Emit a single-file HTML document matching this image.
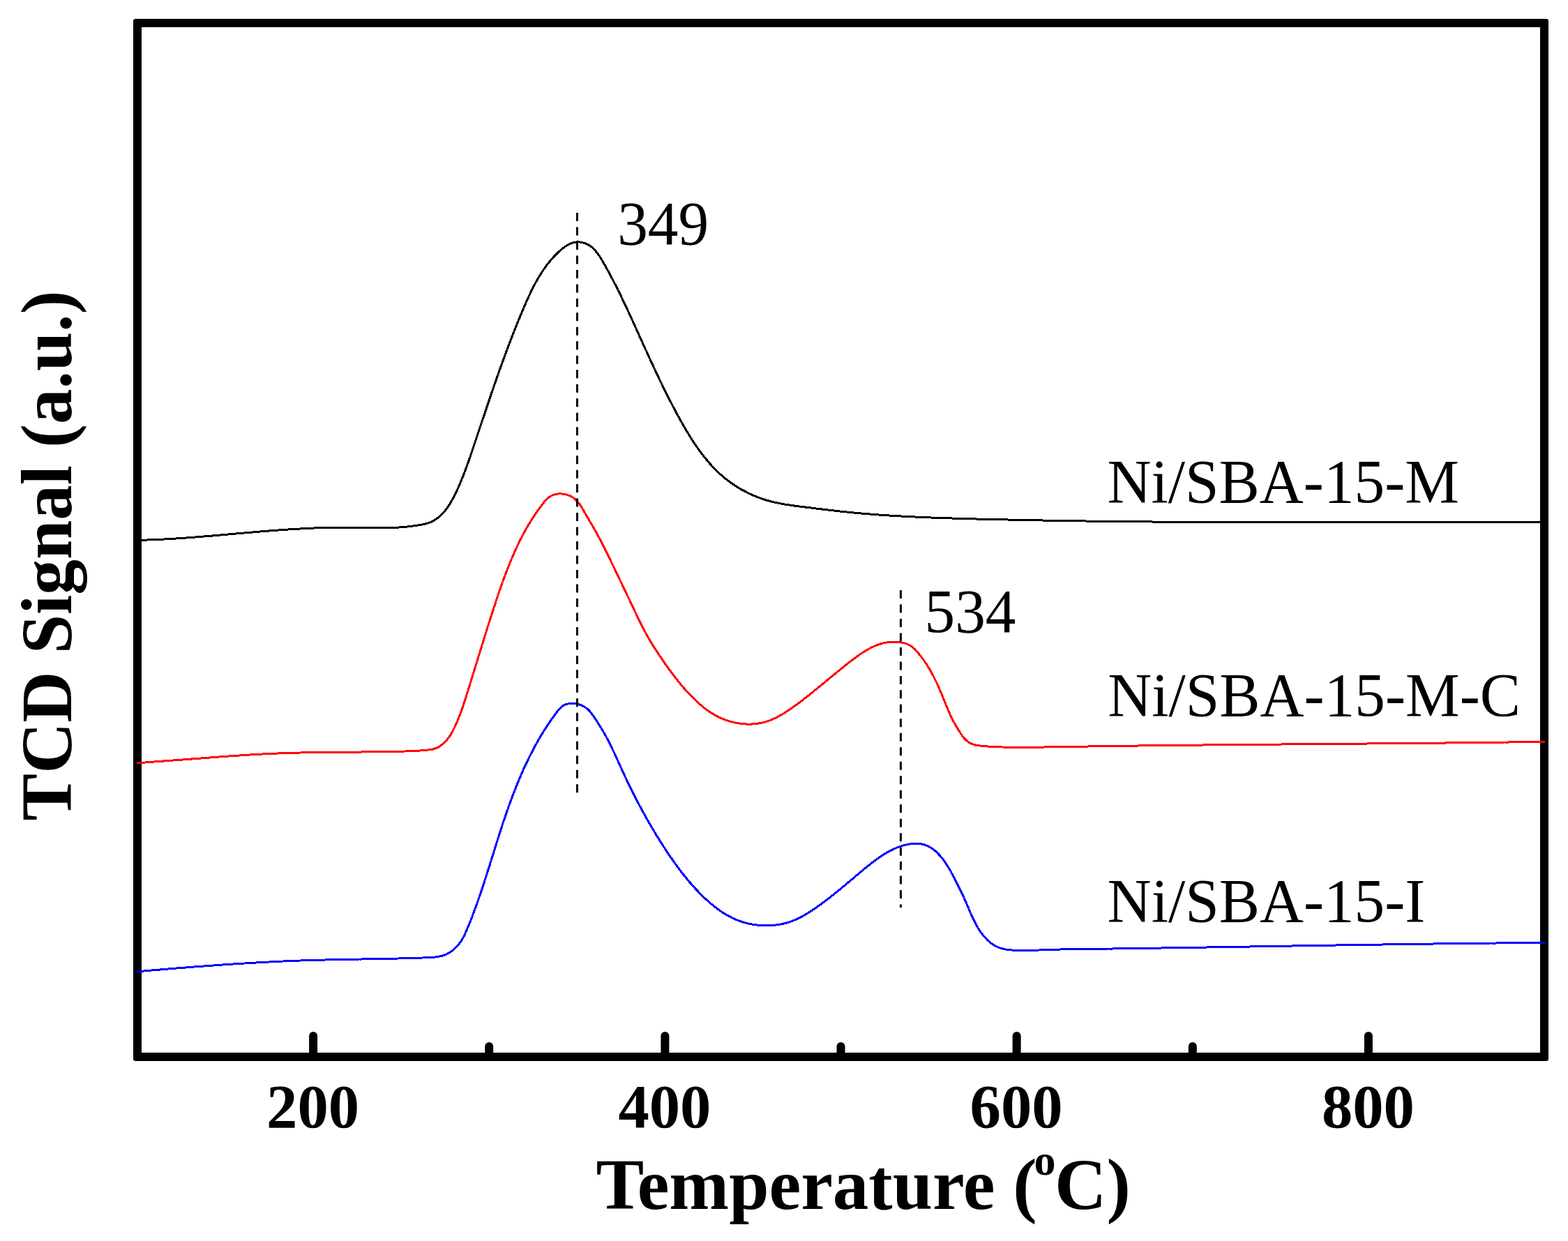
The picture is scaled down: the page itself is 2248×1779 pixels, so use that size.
<!DOCTYPE html>
<html><head><meta charset="utf-8"><title>TCD Signal vs Temperature</title>
<style>
html,body{margin:0;padding:0;background:#fff;}
body{width:2248px;height:1779px;overflow:hidden;}
svg{display:block;}
text{font-family:"Liberation Serif","Times New Roman",Times,serif;fill:#000;}
</style></head>
<body>
<svg width="2248" height="1779" viewBox="0 0 2248 1779">
<rect x="0" y="0" width="2248" height="1779" fill="#fff"/>
<path fill="#000" fill-rule="evenodd" d="M194.5 27H2216.5A3.5 3.5 0 0 1 2220 30.5V1517.5A3.5 3.5 0 0 1 2216.5 1521H194.5A3.5 3.5 0 0 1 191 1517.5V30.5A3.5 3.5 0 0 1 194.5 27ZM203 39V1509H2208V39Z"/>
<g fill="none" stroke="#000" stroke-width="12" stroke-linecap="round">
<line x1="449.1" y1="1515" x2="449.1" y2="1485"/><line x1="701.2" y1="1515" x2="701.2" y2="1500"/><line x1="953.4" y1="1515" x2="953.4" y2="1485"/><line x1="1205.5" y1="1515" x2="1205.5" y2="1500"/><line x1="1457.6" y1="1515" x2="1457.6" y2="1485"/><line x1="1709.8" y1="1515" x2="1709.8" y2="1500"/><line x1="1961.9" y1="1515" x2="1961.9" y2="1485"/>
</g>
<g fill="none" stroke-width="3" stroke-linejoin="round" stroke-linecap="butt" shape-rendering="crispEdges">
<path stroke="#000" d="M196.0 774.4L198.5 774.4 201.0 774.3 203.5 774.2 206.0 774.2 208.5 774.1 211.0 774.0 213.5 773.9 216.0 773.8 218.5 773.7 221.0 773.6 223.5 773.5 226.0 773.4 228.5 773.3 231.0 773.2 233.5 773.1 236.0 772.9 238.5 772.8 241.0 772.7 243.5 772.5 246.0 772.4 248.5 772.2 251.0 772.1 253.5 771.9 256.0 771.7 258.5 771.6 261.0 771.4 263.5 771.2 266.0 771.1 268.5 770.9 271.0 770.7 273.5 770.5 276.0 770.3 278.5 770.1 281.0 769.9 283.4 769.7 285.9 769.5 288.4 769.3 290.9 769.1 293.4 768.9 295.9 768.7 298.4 768.5 300.9 768.3 303.4 768.1 305.9 767.9 308.4 767.7 310.9 767.5 313.4 767.2 315.8 767.0 318.3 766.8 320.8 766.6 323.3 766.4 325.8 766.1 328.3 765.9 330.8 765.7 333.3 765.5 335.8 765.3 338.3 765.0 340.8 764.8 343.3 764.6 345.7 764.4 348.2 764.2 350.7 763.9 353.2 763.7 355.7 763.5 358.2 763.3 360.7 763.1 363.2 762.9 365.7 762.6 368.2 762.4 370.7 762.2 373.2 762.0 375.7 761.8 378.1 761.6 380.6 761.4 383.1 761.2 385.6 761.0 388.1 760.8 390.6 760.6 393.1 760.4 395.6 760.2 398.1 760.1 400.6 759.9 403.1 759.7 405.6 759.5 408.1 759.3 410.6 759.2 413.1 759.0 415.6 758.8 418.1 758.7 420.6 758.5 423.0 758.4 425.5 758.2 428.0 758.1 430.5 758.0 433.0 757.8 435.5 757.7 438.0 757.6 440.5 757.4 443.0 757.3 445.5 757.2 448.0 757.1 450.5 757.0 453.0 756.9 455.5 756.8 458.0 756.7 460.5 756.7 463.0 756.6 465.5 756.5 468.0 756.5 470.5 756.4 473.0 756.4 475.5 756.3 478.0 756.3 480.5 756.3 483.0 756.2 485.5 756.2 488.0 756.2 490.5 756.2 493.0 756.2 495.5 756.3 498.0 756.3 500.5 756.3 503.0 756.3 505.5 756.4 508.0 756.4 510.5 756.5 513.0 756.5 515.5 756.5 518.0 756.6 520.5 756.6 523.1 756.7 525.6 756.7 528.1 756.7 530.6 756.8 533.1 756.8 535.6 756.8 538.1 756.8 540.6 756.9 543.1 756.9 545.6 756.8 548.1 756.8 550.6 756.8 553.1 756.8 555.6 756.7 558.1 756.6 560.6 756.6 563.1 756.5 565.6 756.4 568.1 756.2 570.6 756.1 573.1 755.9 575.5 755.7 578.0 755.6 580.5 755.3 583.0 755.1 585.5 754.8 588.0 754.6 590.5 754.3 593.0 753.9 595.4 753.6 597.9 753.2 600.4 752.8 602.8 752.4 605.3 751.9 607.8 751.4 610.2 750.8 612.6 750.1 615.0 749.4 617.3 748.5 619.6 747.4 621.8 746.3 624.0 745.0 626.0 743.6 628.0 742.1 630.0 740.6 631.8 738.9 633.6 737.1 635.3 735.3 637.0 733.4 638.6 731.5 640.1 729.5 641.6 727.5 643.0 725.4 644.3 723.3 645.6 721.2 646.9 719.0 648.1 716.9 649.3 714.7 650.5 712.5 651.6 710.2 652.7 708.0 653.8 705.7 654.9 703.5 655.9 701.2 657.0 698.9 658.0 696.6 659.0 694.3 660.0 692.0 660.9 689.7 661.9 687.4 662.8 685.1 663.8 682.8 664.7 680.4 665.6 678.1 666.5 675.8 667.3 673.4 668.2 671.1 669.1 668.7 669.9 666.4 670.8 664.0 671.6 661.7 672.4 659.3 673.2 657.0 674.1 654.6 674.9 652.2 675.7 649.9 676.5 647.5 677.3 645.1 678.1 642.7 678.9 640.4 679.7 638.0 680.5 635.6 681.3 633.3 682.1 630.9 682.9 628.5 683.7 626.1 684.4 623.8 685.2 621.4 686.0 619.0 686.8 616.7 687.6 614.3 688.4 611.9 689.2 609.5 690.0 607.2 690.8 604.8 691.6 602.4 692.4 600.1 693.2 597.7 694.0 595.3 694.8 592.9 695.6 590.6 696.4 588.2 697.2 585.8 698.0 583.5 698.8 581.1 699.6 578.7 700.4 576.4 701.2 574.0 702.0 571.6 702.8 569.2 703.6 566.9 704.4 564.5 705.2 562.1 706.0 559.8 706.9 557.4 707.7 555.1 708.5 552.7 709.3 550.3 710.1 548.0 711.0 545.6 711.8 543.2 712.6 540.9 713.4 538.5 714.3 536.2 715.1 533.8 715.9 531.4 716.8 529.1 717.6 526.7 718.5 524.4 719.3 522.0 720.2 519.7 721.0 517.3 721.9 515.0 722.7 512.6 723.6 510.3 724.5 507.9 725.3 505.6 726.2 503.2 727.1 500.9 728.0 498.6 728.8 496.2 729.7 493.9 730.6 491.5 731.5 489.2 732.4 486.9 733.3 484.5 734.2 482.2 735.1 479.9 736.0 477.5 736.9 475.2 737.9 472.9 738.8 470.6 739.7 468.2 740.6 465.9 741.6 463.6 742.5 461.3 743.5 459.0 744.4 456.7 745.4 454.3 746.3 452.0 747.3 449.7 748.3 447.4 749.2 445.1 750.2 442.8 751.2 440.5 752.2 438.2 753.2 435.9 754.2 433.6 755.2 431.3 756.2 429.1 757.3 426.8 758.3 424.5 759.4 422.2 760.4 420.0 761.5 417.7 762.6 415.5 763.7 413.2 764.9 411.0 766.0 408.8 767.2 406.6 768.4 404.4 769.6 402.2 770.8 400.0 772.1 397.9 773.4 395.7 774.7 393.6 776.0 391.5 777.4 389.4 778.8 387.3 780.2 385.2 781.7 383.2 783.1 381.2 784.6 379.2 786.2 377.2 787.8 375.3 789.4 373.3 791.0 371.5 792.6 369.6 794.3 367.7 796.1 365.9 797.8 364.2 799.6 362.4 801.4 360.7 803.3 359.0 805.2 357.4 807.1 355.8 809.1 354.3 811.2 352.9 813.3 351.5 815.5 350.3 817.7 349.3 820.1 348.3 822.5 347.6 824.9 347.2 827.4 346.9 829.9 346.9 832.4 347.2 834.9 347.6 837.3 348.3 839.6 349.1 841.9 350.1 844.1 351.3 846.2 352.6 848.2 354.1 850.1 355.8 851.9 357.5 853.6 359.4 855.2 361.3 856.7 363.3 858.2 365.3 859.6 367.4 860.9 369.5 862.3 371.6 863.5 373.8 864.8 375.9 866.0 378.1 867.3 380.3 868.5 382.5 869.7 384.6 870.9 386.8 872.1 389.0 873.3 391.2 874.5 393.4 875.7 395.6 876.8 397.8 878.0 400.1 879.1 402.3 880.3 404.5 881.4 406.7 882.6 408.9 883.7 411.2 884.8 413.4 885.9 415.7 887.1 417.9 888.2 420.1 889.3 422.4 890.4 424.6 891.5 426.9 892.5 429.1 893.6 431.4 894.7 433.6 895.8 435.9 896.8 438.2 897.9 440.4 899.0 442.7 900.0 445.0 901.1 447.2 902.1 449.5 903.2 451.8 904.2 454.0 905.3 456.3 906.3 458.6 907.4 460.9 908.4 463.1 909.4 465.4 910.5 467.7 911.5 470.0 912.5 472.2 913.6 474.5 914.6 476.8 915.6 479.1 916.6 481.4 917.7 483.6 918.7 485.9 919.7 488.2 920.8 490.5 921.8 492.8 922.8 495.0 923.9 497.3 924.9 499.6 925.9 501.9 927.0 504.1 928.0 506.4 929.0 508.7 930.1 511.0 931.1 513.2 932.2 515.5 933.2 517.8 934.3 520.1 935.3 522.3 936.4 524.6 937.4 526.9 938.5 529.1 939.6 531.4 940.6 533.7 941.7 535.9 942.8 538.2 943.8 540.4 944.9 542.7 946.0 545.0 947.1 547.2 948.2 549.5 949.3 551.7 950.3 554.0 951.4 556.2 952.6 558.4 953.7 560.7 954.8 562.9 955.9 565.2 957.0 567.4 958.2 569.6 959.3 571.9 960.4 574.1 961.6 576.3 962.7 578.5 963.9 580.8 965.0 583.0 966.2 585.2 967.4 587.4 968.6 589.6 969.7 591.8 970.9 594.0 972.1 596.2 973.3 598.4 974.5 600.6 975.8 602.8 977.0 604.9 978.2 607.1 979.5 609.3 980.7 611.5 982.0 613.6 983.2 615.8 984.5 617.9 985.8 620.1 987.1 622.2 988.4 624.3 989.7 626.5 991.1 628.6 992.4 630.7 993.8 632.8 995.1 634.9 996.5 636.9 997.9 639.0 999.4 641.1 1000.8 643.1 1002.3 645.2 1003.7 647.2 1005.2 649.2 1006.7 651.2 1008.3 653.2 1009.8 655.1 1011.4 657.1 1013.0 659.0 1014.6 660.9 1016.2 662.8 1017.8 664.7 1019.5 666.6 1021.2 668.4 1022.9 670.2 1024.6 672.0 1026.4 673.8 1028.2 675.6 1030.0 677.3 1031.8 679.0 1033.7 680.7 1035.6 682.3 1037.5 684.0 1039.4 685.6 1041.3 687.1 1043.3 688.7 1045.3 690.2 1047.3 691.7 1049.3 693.1 1051.4 694.5 1053.5 695.9 1055.6 697.3 1057.7 698.6 1059.9 699.9 1062.0 701.2 1064.2 702.4 1066.4 703.6 1068.6 704.7 1070.8 705.9 1073.1 707.0 1075.3 708.1 1077.6 709.1 1079.9 710.1 1082.2 711.1 1084.5 712.0 1086.8 712.9 1089.2 713.8 1091.5 714.6 1093.9 715.5 1096.3 716.2 1098.7 717.0 1101.1 717.7 1103.5 718.3 1105.9 719.0 1108.3 719.6 1110.8 720.2 1113.2 720.7 1115.7 721.2 1118.1 721.7 1120.6 722.2 1123.0 722.6 1125.5 723.1 1128.0 723.5 1130.4 723.8 1132.9 724.2 1135.4 724.6 1137.9 724.9 1140.3 725.3 1142.8 725.6 1145.3 725.9 1147.8 726.2 1150.3 726.5 1152.7 726.8 1155.2 727.1 1157.7 727.4 1160.2 727.7 1162.7 728.0 1165.2 728.3 1167.6 728.7 1170.1 729.0 1172.6 729.3 1175.1 729.6 1177.6 729.9 1180.1 730.2 1182.5 730.5 1185.0 730.8 1187.5 731.1 1190.0 731.4 1192.5 731.6 1195.0 731.9 1197.4 732.2 1199.9 732.5 1202.4 732.8 1204.9 733.1 1207.4 733.3 1209.9 733.6 1212.4 733.9 1214.9 734.1 1217.3 734.4 1219.8 734.6 1222.3 734.9 1224.8 735.1 1227.3 735.3 1229.8 735.6 1232.3 735.8 1234.8 736.0 1237.3 736.2 1239.8 736.4 1242.2 736.6 1244.7 736.8 1247.2 737.0 1249.7 737.2 1252.2 737.4 1254.7 737.6 1257.2 737.8 1259.7 738.0 1262.2 738.2 1264.7 738.3 1267.2 738.5 1269.7 738.7 1272.2 738.8 1274.7 739.0 1277.2 739.2 1279.7 739.3 1282.2 739.5 1284.7 739.6 1287.2 739.8 1289.7 739.9 1292.2 740.0 1294.7 740.2 1297.2 740.3 1299.6 740.4 1302.1 740.6 1304.6 740.7 1307.1 740.8 1309.6 740.9 1312.1 741.0 1314.6 741.2 1317.1 741.3 1319.6 741.4 1322.1 741.5 1324.6 741.6 1327.1 741.7 1329.6 741.8 1332.1 741.9 1334.6 742.0 1337.1 742.1 1339.6 742.2 1342.1 742.3 1344.6 742.4 1347.1 742.4 1349.6 742.5 1352.1 742.6 1354.6 742.7 1357.1 742.8 1359.6 742.9 1362.1 742.9 1364.6 743.0 1367.1 743.1 1369.6 743.2 1372.1 743.2 1374.6 743.3 1377.1 743.4 1379.6 743.4 1382.1 743.5 1384.6 743.6 1387.1 743.6 1389.6 743.7 1392.1 743.8 1394.6 743.8 1397.1 743.9 1399.6 744.0 1402.1 744.0 1404.6 744.1 1407.1 744.1 1409.6 744.2 1412.1 744.3 1414.6 744.3 1417.1 744.4 1419.6 744.4 1422.1 744.5 1424.6 744.6 1427.1 744.6 1429.6 744.7 1432.1 744.7 1434.6 744.8 1437.1 744.8 1439.6 744.9 1442.1 744.9 1444.6 745.0 1447.1 745.1 1449.6 745.1 1452.1 745.2 1454.6 745.2 1457.1 745.3 1459.6 745.3 1462.1 745.4 1464.7 745.4 1467.2 745.5 1469.7 745.5 1472.2 745.6 1474.7 745.6 1477.2 745.7 1479.7 745.7 1482.2 745.8 1484.7 745.8 1487.2 745.8 1489.7 745.9 1492.2 745.9 1494.7 746.0 1497.2 746.0 1499.7 746.1 1502.2 746.1 1504.7 746.2 1507.2 746.2 1509.7 746.2 1512.2 746.3 1514.7 746.3 1517.2 746.4 1519.7 746.4 1522.2 746.4 1524.7 746.5 1527.2 746.5 1529.7 746.6 1532.2 746.6 1534.7 746.6 1537.2 746.7 1539.7 746.7 1542.2 746.7 1544.7 746.8 1547.2 746.8 1549.7 746.8 1552.2 746.9 1554.7 746.9 1557.2 747.0 1559.7 747.0 1562.2 747.0 1564.7 747.1 1567.2 747.1 1569.7 747.1 1572.2 747.1 1574.7 747.2 1577.2 747.2 1579.7 747.2 1582.2 747.3 1584.7 747.3 1587.2 747.3 1589.7 747.4 1592.2 747.4 1594.7 747.4 1597.2 747.4 1599.7 747.5 1602.2 747.5 1604.7 747.5 1607.2 747.6 1609.7 747.6 1612.2 747.6 1614.7 747.6 1617.2 747.7 1619.7 747.7 1622.2 747.7 1624.7 747.7 1627.2 747.8 1629.7 747.8 1632.2 747.8 1634.7 747.8 1637.2 747.8 1639.7 747.9 1642.2 747.9 1644.7 747.9 1647.2 747.9 1649.7 747.9 1652.2 748.0 1654.7 748.0 1657.2 748.0 1659.7 748.0 1662.2 748.0 1664.7 748.1 1667.2 748.1 1669.7 748.1 1672.2 748.1 1674.7 748.1 1677.2 748.2 1679.7 748.2 1682.2 748.2 1684.7 748.2 1687.2 748.2 1689.7 748.2 1692.2 748.3 1694.7 748.3 1697.2 748.3 1699.7 748.3 1702.2 748.3 1704.8 748.3 1707.3 748.3 1709.8 748.4 1712.3 748.4 1714.8 748.4 1717.3 748.4 1719.8 748.4 1722.3 748.4 1724.8 748.4 1727.3 748.4 1729.8 748.5 1732.3 748.5 1734.8 748.5 1737.3 748.5 1739.8 748.5 1742.3 748.5 1744.8 748.5 1747.3 748.5 1749.8 748.5 1752.3 748.5 1754.8 748.6 1757.3 748.6 1759.8 748.6 1762.3 748.6 1764.8 748.6 1767.3 748.6 1769.8 748.6 1772.3 748.6 1774.8 748.6 1777.3 748.6 1779.8 748.6 1782.3 748.6 1784.8 748.6 1787.3 748.7 1789.8 748.7 1792.3 748.7 1794.8 748.7 1797.3 748.7 1799.8 748.7 1802.3 748.7 1804.8 748.7 1807.3 748.7 1809.8 748.7 1812.3 748.7 1814.8 748.7 1817.3 748.7 1819.8 748.7 1822.3 748.7 1824.8 748.7 1827.3 748.7 1829.8 748.7 1832.3 748.7 1834.8 748.7 1837.3 748.7 1839.8 748.7 1842.3 748.7 1844.8 748.7 1847.3 748.7 1849.8 748.7 1852.3 748.7 1854.8 748.7 1857.3 748.7 1859.8 748.7 1862.3 748.7 1864.8 748.7 1867.3 748.7 1869.8 748.7 1872.3 748.7 1874.8 748.7 1877.3 748.7 1879.8 748.7 1882.3 748.7 1884.8 748.7 1887.3 748.7 1889.8 748.7 1892.3 748.7 1894.8 748.7 1897.3 748.7 1899.8 748.7 1902.3 748.7 1904.8 748.7 1907.4 748.7 1909.9 748.7 1912.4 748.7 1914.9 748.7 1917.4 748.7 1919.9 748.7 1922.4 748.7 1924.9 748.7 1927.4 748.7 1929.9 748.7 1932.4 748.7 1934.9 748.7 1937.4 748.7 1939.9 748.7 1942.4 748.7 1944.9 748.7 1947.4 748.7 1949.9 748.7 1952.4 748.7 1954.9 748.7 1957.4 748.7 1959.9 748.7 1962.4 748.7 1964.9 748.7 1967.4 748.7 1969.9 748.6 1972.4 748.6 1974.9 748.6 1977.4 748.6 1979.9 748.6 1982.4 748.6 1984.9 748.6 1987.4 748.6 1989.9 748.6 1992.4 748.6 1994.9 748.6 1997.4 748.6 1999.9 748.6 2002.4 748.6 2004.9 748.6 2007.4 748.6 2009.9 748.6 2012.4 748.6 2014.9 748.6 2017.4 748.6 2019.9 748.6 2022.4 748.5 2024.9 748.5 2027.4 748.5 2029.9 748.5 2032.4 748.5 2034.9 748.5 2037.4 748.5 2039.9 748.5 2042.4 748.5 2044.9 748.5 2047.4 748.5 2049.9 748.5 2052.4 748.5 2054.9 748.5 2057.4 748.5 2059.9 748.5 2062.4 748.5 2064.9 748.5 2067.4 748.4 2069.9 748.4 2072.4 748.4 2074.9 748.4 2077.4 748.4 2079.9 748.4 2082.4 748.4 2084.9 748.4 2087.4 748.4 2089.9 748.4 2092.4 748.4 2094.9 748.4 2097.4 748.4 2099.9 748.4 2102.4 748.4 2104.9 748.4 2107.5 748.4 2110.0 748.4 2112.5 748.4 2115.0 748.3 2117.5 748.3 2120.0 748.3 2122.5 748.3 2125.0 748.3 2127.5 748.3 2130.0 748.3 2132.5 748.3 2135.0 748.3 2137.5 748.3 2140.0 748.3 2142.5 748.3 2145.0 748.3 2147.5 748.3 2150.0 748.3 2152.5 748.3 2155.0 748.3 2157.5 748.3 2160.0 748.3 2162.5 748.3 2165.0 748.3 2167.5 748.3 2170.0 748.3 2172.5 748.2 2175.0 748.2 2177.5 748.2 2180.0 748.2 2182.5 748.2 2185.0 748.2 2187.5 748.2 2190.0 748.2 2192.5 748.2 2195.0 748.2 2197.5 748.2 2200.0 748.2 2202.5 748.2 2205.0 748.2 2207.5 748.2 2210.0 748.2 2212.5 748.2 2215.0 748.2"/>
<path stroke="#f00" d="M196.0 1094.1L198.5 1093.8 201.0 1093.6 203.5 1093.4 206.0 1093.2 208.4 1093.0 210.9 1092.8 213.4 1092.6 215.9 1092.4 218.4 1092.2 220.9 1092.0 223.4 1091.8 225.9 1091.6 228.4 1091.5 230.9 1091.3 233.4 1091.1 235.9 1090.9 238.4 1090.7 240.9 1090.5 243.4 1090.3 245.9 1090.2 248.3 1090.0 250.8 1089.8 253.3 1089.6 255.8 1089.4 258.3 1089.3 260.8 1089.1 263.3 1088.9 265.8 1088.7 268.3 1088.5 270.8 1088.3 273.3 1088.1 275.8 1087.9 278.3 1087.8 280.8 1087.6 283.3 1087.4 285.8 1087.2 288.3 1087.0 290.7 1086.8 293.2 1086.6 295.7 1086.4 298.2 1086.2 300.7 1086.0 303.2 1085.8 305.7 1085.7 308.2 1085.5 310.7 1085.3 313.2 1085.1 315.7 1084.9 318.2 1084.7 320.7 1084.5 323.2 1084.4 325.7 1084.2 328.2 1084.0 330.6 1083.8 333.1 1083.7 335.6 1083.5 338.1 1083.3 340.6 1083.1 343.1 1083.0 345.6 1082.8 348.1 1082.6 350.6 1082.5 353.1 1082.3 355.6 1082.2 358.1 1082.0 360.6 1081.9 363.1 1081.7 365.6 1081.6 368.1 1081.4 370.6 1081.3 373.1 1081.2 375.6 1081.0 378.1 1080.9 380.6 1080.8 383.1 1080.6 385.6 1080.5 388.1 1080.4 390.6 1080.3 393.1 1080.2 395.6 1080.1 398.1 1080.0 400.6 1079.9 403.1 1079.8 405.6 1079.7 408.1 1079.6 410.6 1079.5 413.1 1079.5 415.6 1079.4 418.1 1079.3 420.6 1079.3 423.1 1079.2 425.6 1079.1 428.1 1079.1 430.6 1079.0 433.1 1078.9 435.6 1078.9 438.1 1078.8 440.6 1078.8 443.1 1078.7 445.6 1078.7 448.1 1078.7 450.6 1078.6 453.1 1078.6 455.6 1078.5 458.1 1078.5 460.6 1078.5 463.1 1078.4 465.6 1078.4 468.1 1078.4 470.6 1078.4 473.1 1078.3 475.6 1078.3 478.1 1078.3 480.6 1078.3 483.1 1078.2 485.6 1078.2 488.1 1078.2 490.6 1078.2 493.1 1078.1 495.6 1078.1 498.1 1078.1 500.6 1078.1 503.1 1078.1 505.6 1078.1 508.1 1078.0 510.6 1078.0 513.1 1078.0 515.6 1078.0 518.1 1078.0 520.6 1077.9 523.1 1077.9 525.6 1077.9 528.1 1077.9 530.6 1077.8 533.1 1077.8 535.6 1077.8 538.1 1077.8 540.6 1077.7 543.1 1077.7 545.6 1077.7 548.1 1077.6 550.6 1077.6 553.1 1077.6 555.6 1077.5 558.1 1077.5 560.6 1077.4 563.1 1077.4 565.6 1077.4 568.1 1077.3 570.6 1077.3 573.1 1077.2 575.6 1077.1 578.1 1077.1 580.6 1077.0 583.1 1076.9 585.6 1076.8 588.1 1076.7 590.6 1076.6 593.1 1076.5 595.6 1076.4 598.1 1076.2 600.6 1076.1 603.1 1075.9 605.6 1075.7 608.1 1075.5 610.6 1075.3 613.1 1075.1 615.5 1074.8 618.0 1074.5 620.5 1074.0 622.9 1073.3 625.2 1072.5 627.5 1071.5 629.7 1070.3 631.8 1068.9 633.8 1067.4 635.7 1065.8 637.5 1064.0 639.2 1062.2 640.9 1060.3 642.4 1058.4 643.9 1056.3 645.3 1054.3 646.6 1052.1 647.9 1050.0 649.1 1047.8 650.2 1045.6 651.4 1043.3 652.4 1041.1 653.5 1038.8 654.5 1036.5 655.5 1034.2 656.5 1031.9 657.4 1029.6 658.3 1027.3 659.2 1025.0 660.1 1022.6 661.0 1020.3 661.8 1017.9 662.7 1015.6 663.5 1013.2 664.3 1010.8 665.1 1008.5 665.9 1006.1 666.6 1003.7 667.4 1001.3 668.2 998.9 668.9 996.6 669.7 994.2 670.4 991.8 671.1 989.4 671.9 987.0 672.6 984.6 673.4 982.2 674.1 979.8 674.8 977.4 675.6 975.1 676.3 972.7 677.1 970.3 677.8 967.9 678.5 965.5 679.3 963.1 680.0 960.7 680.7 958.3 681.5 955.9 682.2 953.5 682.9 951.2 683.7 948.8 684.4 946.4 685.1 944.0 685.9 941.6 686.6 939.2 687.4 936.8 688.1 934.4 688.8 932.0 689.6 929.6 690.3 927.3 691.0 924.9 691.8 922.5 692.5 920.1 693.3 917.7 694.0 915.3 694.8 912.9 695.5 910.5 696.2 908.2 697.0 905.8 697.7 903.4 698.5 901.0 699.2 898.6 700.0 896.2 700.8 893.8 701.5 891.5 702.3 889.1 703.0 886.7 703.8 884.3 704.6 881.9 705.3 879.5 706.1 877.2 706.9 874.8 707.6 872.4 708.4 870.0 709.2 867.7 710.0 865.3 710.8 862.9 711.5 860.5 712.3 858.2 713.1 855.8 713.9 853.4 714.7 851.0 715.5 848.7 716.3 846.3 717.2 843.9 718.0 841.6 718.8 839.2 719.6 836.9 720.5 834.5 721.3 832.2 722.2 829.8 723.1 827.5 723.9 825.1 724.8 822.8 725.7 820.4 726.6 818.1 727.5 815.8 728.4 813.4 729.3 811.1 730.3 808.8 731.2 806.5 732.2 804.2 733.1 801.9 734.1 799.6 735.1 797.3 736.1 795.0 737.1 792.7 738.1 790.4 739.1 788.1 740.2 785.8 741.2 783.6 742.3 781.3 743.4 779.1 744.5 776.8 745.6 774.6 746.7 772.3 747.9 770.1 749.0 767.9 750.2 765.7 751.4 763.5 752.6 761.3 753.8 759.1 755.1 756.9 756.3 754.8 757.6 752.6 758.9 750.5 760.2 748.3 761.5 746.2 762.8 744.1 764.2 742.0 765.5 739.9 766.9 737.8 768.3 735.7 769.7 733.7 771.2 731.6 772.6 729.6 774.1 727.6 775.6 725.6 777.1 723.6 778.7 721.6 780.2 719.7 781.8 717.8 783.5 715.9 785.3 714.2 787.3 712.6 789.4 711.3 791.6 710.2 794.0 709.3 796.4 708.7 798.8 708.2 801.3 707.9 803.8 707.8 806.3 708.0 808.8 708.3 811.2 708.8 813.7 709.5 816.0 710.3 818.3 711.4 820.4 712.6 822.5 714.0 824.5 715.6 826.3 717.3 828.0 719.1 829.6 721.0 831.1 723.0 832.5 725.1 833.9 727.2 835.2 729.3 836.4 731.5 837.7 733.7 838.9 735.8 840.2 738.0 841.4 740.2 842.7 742.3 844.0 744.5 845.2 746.6 846.5 748.8 847.8 750.9 849.1 753.1 850.3 755.2 851.6 757.4 852.8 759.6 854.0 761.8 855.2 764.0 856.4 766.2 857.6 768.4 858.8 770.6 860.0 772.8 861.1 775.0 862.3 777.2 863.4 779.4 864.6 781.7 865.7 783.9 866.8 786.1 867.9 788.4 869.1 790.6 870.2 792.8 871.3 795.1 872.4 797.3 873.5 799.6 874.6 801.8 875.6 804.1 876.7 806.3 877.8 808.6 878.9 810.8 880.0 813.1 881.1 815.3 882.1 817.6 883.2 819.9 884.3 822.1 885.4 824.4 886.5 826.6 887.5 828.9 888.6 831.1 889.7 833.4 890.8 835.6 891.9 837.9 893.0 840.2 894.0 842.4 895.1 844.7 896.2 846.9 897.3 849.2 898.4 851.4 899.4 853.7 900.5 855.9 901.6 858.2 902.7 860.5 903.7 862.7 904.8 865.0 905.9 867.2 907.0 869.5 908.0 871.7 909.1 874.0 910.2 876.3 911.3 878.5 912.3 880.8 913.4 883.0 914.5 885.3 915.6 887.5 916.7 889.8 917.8 892.0 918.9 894.3 920.0 896.5 921.2 898.7 922.3 901.0 923.5 903.2 924.7 905.4 925.8 907.6 927.0 909.8 928.3 912.0 929.5 914.1 930.8 916.3 932.0 918.4 933.3 920.6 934.6 922.7 935.9 924.9 937.3 927.0 938.6 929.1 939.9 931.2 941.3 933.3 942.7 935.4 944.0 937.5 945.4 939.6 946.8 941.6 948.2 943.7 949.6 945.8 951.1 947.8 952.5 949.9 953.9 951.9 955.3 954.0 956.8 956.0 958.2 958.1 959.7 960.1 961.2 962.1 962.7 964.1 964.2 966.1 965.7 968.1 967.2 970.1 968.7 972.1 970.3 974.0 971.8 976.0 973.4 977.9 975.0 979.9 976.6 981.8 978.2 983.7 979.8 985.6 981.5 987.5 983.1 989.4 984.8 991.2 986.5 993.1 988.2 994.9 989.9 996.7 991.7 998.5 993.5 1000.3 995.2 1002.0 997.0 1003.7 998.9 1005.5 1000.7 1007.2 1002.6 1008.8 1004.4 1010.5 1006.4 1012.1 1008.3 1013.7 1010.2 1015.2 1012.2 1016.7 1014.2 1018.2 1016.3 1019.7 1018.4 1021.1 1020.5 1022.4 1022.6 1023.7 1024.8 1025.0 1027.0 1026.2 1029.2 1027.3 1031.4 1028.4 1033.7 1029.4 1036.0 1030.4 1038.3 1031.3 1040.7 1032.2 1043.1 1033.0 1045.4 1033.8 1047.8 1034.5 1050.3 1035.1 1052.7 1035.7 1055.1 1036.2 1057.6 1036.6 1060.1 1037.0 1062.5 1037.4 1065.0 1037.6 1067.5 1037.8 1070.0 1038.0 1072.5 1038.0 1075.0 1038.0 1077.5 1038.0 1080.0 1037.8 1082.5 1037.6 1085.0 1037.4 1087.5 1037.0 1089.9 1036.6 1092.4 1036.1 1094.8 1035.5 1097.2 1034.9 1099.6 1034.1 1102.0 1033.3 1104.3 1032.5 1106.7 1031.5 1109.0 1030.5 1111.2 1029.5 1113.5 1028.4 1115.7 1027.2 1117.9 1026.0 1120.1 1024.8 1122.2 1023.5 1124.4 1022.2 1126.5 1020.9 1128.6 1019.5 1130.7 1018.2 1132.7 1016.7 1134.8 1015.3 1136.8 1013.9 1138.8 1012.4 1140.9 1010.9 1142.9 1009.5 1144.9 1008.0 1146.9 1006.5 1148.9 1004.9 1150.9 1003.4 1152.8 1001.9 1154.8 1000.4 1156.8 998.8 1158.7 997.3 1160.7 995.7 1162.7 994.2 1164.6 992.6 1166.6 991.0 1168.5 989.4 1170.4 987.9 1172.4 986.3 1174.3 984.7 1176.2 983.1 1178.2 981.5 1180.1 979.9 1182.0 978.3 1184.0 976.7 1185.9 975.1 1187.8 973.6 1189.7 972.0 1191.7 970.4 1193.6 968.8 1195.5 967.2 1197.5 965.6 1199.4 964.0 1201.3 962.4 1203.3 960.9 1205.2 959.3 1207.2 957.7 1209.1 956.2 1211.1 954.6 1213.0 953.0 1215.0 951.5 1217.0 950.0 1219.0 948.4 1220.9 946.9 1222.9 945.4 1224.9 943.9 1226.9 942.4 1228.9 940.9 1231.0 939.5 1233.0 938.0 1235.1 936.6 1237.2 935.2 1239.3 933.9 1241.4 932.6 1243.6 931.3 1245.8 930.1 1248.0 928.9 1250.2 927.8 1252.5 926.7 1254.8 925.7 1257.1 924.8 1259.4 924.0 1261.8 923.2 1264.2 922.5 1266.6 921.9 1269.1 921.3 1271.5 920.9 1274.0 920.6 1276.5 920.3 1279.0 920.2 1281.5 920.1 1284.0 920.2 1286.5 920.3 1289.0 920.5 1291.5 920.9 1293.9 921.3 1296.4 921.9 1298.8 922.6 1301.1 923.5 1303.4 924.6 1305.5 925.9 1307.6 927.3 1309.5 928.8 1311.4 930.5 1313.1 932.3 1314.8 934.2 1316.4 936.1 1318.0 938.0 1319.5 940.0 1321.0 942.0 1322.5 944.0 1324.0 946.0 1325.4 948.1 1326.8 950.1 1328.2 952.2 1329.6 954.3 1330.9 956.4 1332.2 958.6 1333.5 960.7 1334.7 962.9 1335.9 965.1 1337.1 967.3 1338.3 969.5 1339.4 971.7 1340.5 974.0 1341.6 976.2 1342.7 978.5 1343.8 980.7 1344.8 983.0 1345.8 985.3 1346.8 987.6 1347.8 989.9 1348.8 992.2 1349.8 994.5 1350.7 996.8 1351.7 999.1 1352.6 1001.4 1353.6 1003.7 1354.5 1006.1 1355.4 1008.4 1356.4 1010.7 1357.3 1013.0 1358.3 1015.3 1359.2 1017.6 1360.2 1019.9 1361.2 1022.2 1362.2 1024.5 1363.3 1026.8 1364.4 1029.0 1365.5 1031.3 1366.6 1033.5 1367.8 1035.7 1369.1 1037.9 1370.3 1040.0 1371.6 1042.2 1372.9 1044.3 1374.2 1046.5 1375.5 1048.6 1376.8 1050.7 1378.2 1052.8 1379.6 1054.9 1381.1 1056.8 1382.8 1058.7 1384.5 1060.6 1386.3 1062.2 1388.3 1063.8 1390.4 1065.1 1392.7 1066.2 1395.0 1067.1 1397.4 1067.8 1399.9 1068.3 1402.3 1068.7 1404.8 1069.0 1407.3 1069.3 1409.8 1069.5 1412.3 1069.7 1414.8 1069.9 1417.3 1070.1 1419.8 1070.2 1422.3 1070.4 1424.8 1070.5 1427.3 1070.6 1429.8 1070.8 1432.3 1070.9 1434.8 1070.9 1437.3 1071.0 1439.8 1071.1 1442.3 1071.2 1444.8 1071.2 1447.3 1071.3 1449.8 1071.3 1452.3 1071.3 1454.8 1071.3 1457.3 1071.4 1459.8 1071.4 1462.3 1071.4 1464.8 1071.4 1467.3 1071.4 1469.8 1071.3 1472.3 1071.3 1474.8 1071.3 1477.3 1071.3 1479.8 1071.2 1482.3 1071.2 1484.8 1071.2 1487.3 1071.1 1489.8 1071.1 1492.3 1071.0 1494.8 1071.0 1497.3 1071.0 1499.8 1070.9 1502.3 1070.9 1504.8 1070.8 1507.3 1070.8 1509.8 1070.7 1512.3 1070.7 1514.8 1070.7 1517.3 1070.6 1519.8 1070.6 1522.3 1070.5 1524.8 1070.5 1527.3 1070.5 1529.8 1070.4 1532.3 1070.4 1534.8 1070.3 1537.3 1070.3 1539.8 1070.3 1542.3 1070.2 1544.8 1070.2 1547.3 1070.1 1549.8 1070.1 1552.3 1070.1 1554.8 1070.0 1557.3 1070.0 1559.8 1070.0 1562.3 1069.9 1564.8 1069.9 1567.3 1069.8 1569.8 1069.8 1572.3 1069.8 1574.8 1069.7 1577.3 1069.7 1579.8 1069.7 1582.3 1069.6 1584.8 1069.6 1587.3 1069.6 1589.8 1069.5 1592.3 1069.5 1594.8 1069.5 1597.3 1069.4 1599.8 1069.4 1602.3 1069.4 1604.8 1069.3 1607.3 1069.3 1609.8 1069.3 1612.3 1069.2 1614.8 1069.2 1617.3 1069.2 1619.8 1069.1 1622.3 1069.1 1624.8 1069.1 1627.3 1069.0 1629.8 1069.0 1632.3 1069.0 1634.8 1068.9 1637.3 1068.9 1639.8 1068.9 1642.3 1068.9 1644.8 1068.8 1647.3 1068.8 1649.8 1068.8 1652.3 1068.7 1654.8 1068.7 1657.3 1068.7 1659.8 1068.6 1662.3 1068.6 1664.8 1068.6 1667.3 1068.6 1669.8 1068.5 1672.3 1068.5 1674.8 1068.5 1677.3 1068.5 1679.8 1068.4 1682.3 1068.4 1684.8 1068.4 1687.3 1068.3 1689.8 1068.3 1692.3 1068.3 1694.8 1068.3 1697.3 1068.2 1699.8 1068.2 1702.3 1068.2 1704.8 1068.2 1707.3 1068.1 1709.8 1068.1 1712.3 1068.1 1714.8 1068.1 1717.3 1068.0 1719.8 1068.0 1722.3 1068.0 1724.8 1068.0 1727.3 1067.9 1729.8 1067.9 1732.3 1067.9 1734.8 1067.9 1737.3 1067.8 1739.8 1067.8 1742.3 1067.8 1744.8 1067.8 1747.3 1067.7 1749.8 1067.7 1752.3 1067.7 1754.8 1067.7 1757.3 1067.7 1759.8 1067.6 1762.3 1067.6 1764.8 1067.6 1767.4 1067.6 1769.9 1067.5 1772.4 1067.5 1774.9 1067.5 1777.4 1067.5 1779.9 1067.4 1782.4 1067.4 1784.9 1067.4 1787.4 1067.4 1789.9 1067.4 1792.4 1067.3 1794.9 1067.3 1797.4 1067.3 1799.9 1067.3 1802.4 1067.3 1804.9 1067.2 1807.4 1067.2 1809.9 1067.2 1812.4 1067.2 1814.9 1067.1 1817.4 1067.1 1819.9 1067.1 1822.4 1067.1 1824.9 1067.1 1827.4 1067.0 1829.9 1067.0 1832.4 1067.0 1834.9 1067.0 1837.4 1067.0 1839.9 1066.9 1842.4 1066.9 1844.9 1066.9 1847.4 1066.9 1849.9 1066.9 1852.4 1066.8 1854.9 1066.8 1857.4 1066.8 1859.9 1066.8 1862.4 1066.8 1864.9 1066.7 1867.4 1066.7 1869.9 1066.7 1872.4 1066.7 1874.9 1066.7 1877.4 1066.6 1879.9 1066.6 1882.4 1066.6 1884.9 1066.6 1887.4 1066.5 1889.9 1066.5 1892.4 1066.5 1894.9 1066.5 1897.4 1066.5 1899.9 1066.4 1902.4 1066.4 1904.9 1066.4 1907.4 1066.4 1909.9 1066.4 1912.4 1066.3 1914.9 1066.3 1917.4 1066.3 1919.9 1066.3 1922.4 1066.3 1924.9 1066.2 1927.4 1066.2 1929.9 1066.2 1932.4 1066.2 1934.9 1066.2 1937.4 1066.1 1939.9 1066.1 1942.4 1066.1 1944.9 1066.1 1947.4 1066.1 1949.9 1066.0 1952.4 1066.0 1954.9 1066.0 1957.4 1066.0 1959.9 1066.0 1962.4 1065.9 1964.9 1065.9 1967.4 1065.9 1969.9 1065.9 1972.4 1065.9 1974.9 1065.8 1977.4 1065.8 1979.9 1065.8 1982.4 1065.8 1984.9 1065.8 1987.4 1065.7 1989.9 1065.7 1992.4 1065.7 1994.9 1065.7 1997.4 1065.6 1999.9 1065.6 2002.4 1065.6 2004.9 1065.6 2007.4 1065.6 2009.9 1065.5 2012.4 1065.5 2014.9 1065.5 2017.4 1065.5 2019.9 1065.4 2022.4 1065.4 2024.9 1065.4 2027.4 1065.4 2029.9 1065.4 2032.4 1065.3 2034.9 1065.3 2037.4 1065.3 2039.9 1065.3 2042.4 1065.2 2044.9 1065.2 2047.4 1065.2 2049.9 1065.2 2052.4 1065.2 2054.9 1065.1 2057.4 1065.1 2060.0 1065.1 2062.5 1065.1 2065.0 1065.0 2067.5 1065.0 2070.0 1065.0 2072.5 1065.0 2075.0 1064.9 2077.5 1064.9 2080.0 1064.9 2082.5 1064.9 2085.0 1064.8 2087.5 1064.8 2090.0 1064.8 2092.5 1064.8 2095.0 1064.7 2097.5 1064.7 2100.0 1064.7 2102.5 1064.7 2105.0 1064.6 2107.5 1064.6 2110.0 1064.6 2112.5 1064.5 2115.0 1064.5 2117.5 1064.5 2120.0 1064.5 2122.5 1064.4 2125.0 1064.4 2127.5 1064.4 2130.0 1064.4 2132.5 1064.3 2135.0 1064.3 2137.5 1064.3 2140.0 1064.2 2142.5 1064.2 2145.0 1064.2 2147.5 1064.2 2150.0 1064.1 2152.5 1064.1 2155.0 1064.1 2157.5 1064.0 2160.0 1064.0 2162.5 1064.0 2165.0 1063.9 2167.5 1063.9 2170.0 1063.9 2172.5 1063.9 2175.0 1063.8 2177.5 1063.8 2180.0 1063.8 2182.5 1063.7 2185.0 1063.7 2187.5 1063.7 2190.0 1063.6 2192.5 1063.6 2195.0 1063.6 2197.5 1063.5 2200.0 1063.5 2202.5 1063.5 2205.0 1063.4 2207.5 1063.4 2210.0 1063.4 2212.5 1063.3 2215.0 1063.3"/>
<path stroke="#00f" d="M196.0 1392.9L198.5 1392.6 201.0 1392.4 203.5 1392.2 206.0 1392.0 208.5 1391.8 211.0 1391.6 213.5 1391.4 216.0 1391.1 218.5 1390.9 220.9 1390.7 223.4 1390.5 225.9 1390.3 228.4 1390.1 230.9 1389.9 233.4 1389.7 235.9 1389.5 238.4 1389.2 240.9 1389.0 243.4 1388.8 245.9 1388.6 248.4 1388.4 250.9 1388.2 253.4 1388.0 255.9 1387.8 258.3 1387.6 260.8 1387.4 263.3 1387.2 265.8 1387.0 268.3 1386.8 270.8 1386.6 273.3 1386.4 275.8 1386.2 278.3 1386.0 280.8 1385.8 283.3 1385.7 285.8 1385.5 288.3 1385.3 290.8 1385.1 293.3 1384.9 295.8 1384.7 298.3 1384.5 300.7 1384.3 303.2 1384.2 305.7 1384.0 308.2 1383.8 310.7 1383.6 313.2 1383.5 315.7 1383.3 318.2 1383.1 320.7 1382.9 323.2 1382.8 325.7 1382.6 328.2 1382.4 330.7 1382.3 333.2 1382.1 335.7 1381.9 338.2 1381.8 340.7 1381.6 343.2 1381.4 345.7 1381.3 348.2 1381.1 350.7 1381.0 353.2 1380.8 355.7 1380.7 358.2 1380.5 360.7 1380.4 363.2 1380.2 365.6 1380.1 368.1 1379.9 370.6 1379.8 373.1 1379.7 375.6 1379.5 378.1 1379.4 380.6 1379.2 383.1 1379.1 385.6 1379.0 388.1 1378.9 390.6 1378.7 393.1 1378.6 395.6 1378.5 398.1 1378.4 400.6 1378.3 403.1 1378.1 405.6 1378.0 408.1 1377.9 410.6 1377.8 413.1 1377.7 415.6 1377.6 418.1 1377.5 420.6 1377.4 423.1 1377.3 425.6 1377.2 428.1 1377.1 430.6 1377.0 433.1 1376.9 435.6 1376.8 438.1 1376.8 440.6 1376.7 443.1 1376.6 445.6 1376.5 448.1 1376.4 450.6 1376.4 453.1 1376.3 455.6 1376.2 458.1 1376.2 460.6 1376.1 463.1 1376.0 465.6 1376.0 468.1 1375.9 470.6 1375.9 473.1 1375.8 475.6 1375.8 478.1 1375.7 480.6 1375.7 483.1 1375.6 485.6 1375.6 488.1 1375.5 490.6 1375.5 493.1 1375.4 495.6 1375.4 498.1 1375.3 500.6 1375.3 503.1 1375.2 505.6 1375.2 508.1 1375.2 510.6 1375.1 513.1 1375.1 515.6 1375.0 518.1 1375.0 520.7 1374.9 523.2 1374.9 525.7 1374.9 528.2 1374.8 530.7 1374.8 533.2 1374.7 535.7 1374.7 538.2 1374.6 540.7 1374.6 543.2 1374.6 545.7 1374.5 548.2 1374.5 550.7 1374.4 553.2 1374.4 555.7 1374.3 558.2 1374.3 560.7 1374.2 563.2 1374.2 565.7 1374.1 568.2 1374.1 570.7 1374.0 573.2 1373.9 575.7 1373.9 578.2 1373.8 580.7 1373.8 583.2 1373.7 585.7 1373.6 588.2 1373.6 590.7 1373.5 593.2 1373.4 595.7 1373.3 598.2 1373.3 600.7 1373.2 603.2 1373.1 605.7 1373.0 608.2 1372.9 610.7 1372.8 613.2 1372.7 615.7 1372.6 618.2 1372.5 620.7 1372.3 623.2 1372.1 625.6 1371.8 628.1 1371.4 630.6 1370.9 633.0 1370.4 635.4 1369.7 637.8 1368.8 640.1 1367.9 642.3 1366.7 644.5 1365.5 646.6 1364.1 648.6 1362.7 650.6 1361.1 652.4 1359.4 654.2 1357.7 655.9 1355.8 657.5 1353.9 659.0 1351.9 660.5 1349.9 661.9 1347.8 663.1 1345.7 664.3 1343.5 665.5 1341.2 666.6 1339.0 667.6 1336.7 668.6 1334.4 669.6 1332.1 670.6 1329.8 671.5 1327.5 672.5 1325.2 673.4 1322.9 674.4 1320.6 675.3 1318.2 676.2 1315.9 677.1 1313.6 678.0 1311.2 678.9 1308.9 679.7 1306.5 680.6 1304.2 681.5 1301.9 682.3 1299.5 683.2 1297.2 684.0 1294.8 684.9 1292.4 685.7 1290.1 686.5 1287.7 687.3 1285.4 688.2 1283.0 689.0 1280.6 689.8 1278.2 690.6 1275.9 691.3 1273.5 692.1 1271.1 692.9 1268.8 693.7 1266.4 694.5 1264.0 695.2 1261.6 696.0 1259.2 696.8 1256.9 697.5 1254.5 698.3 1252.1 699.0 1249.7 699.8 1247.3 700.6 1244.9 701.3 1242.5 702.1 1240.2 702.8 1237.8 703.5 1235.4 704.3 1233.0 705.0 1230.6 705.8 1228.2 706.5 1225.8 707.3 1223.4 708.0 1221.1 708.8 1218.7 709.5 1216.3 710.2 1213.9 711.0 1211.5 711.7 1209.1 712.5 1206.7 713.2 1204.3 714.0 1202.0 714.8 1199.6 715.5 1197.2 716.3 1194.8 717.0 1192.4 717.8 1190.0 718.6 1187.7 719.4 1185.3 720.1 1182.9 720.9 1180.5 721.7 1178.2 722.5 1175.8 723.3 1173.4 724.1 1171.0 724.9 1168.7 725.7 1166.3 726.5 1163.9 727.4 1161.6 728.2 1159.2 729.0 1156.9 729.9 1154.5 730.7 1152.2 731.6 1149.8 732.4 1147.5 733.3 1145.1 734.2 1142.8 735.1 1140.4 735.9 1138.1 736.8 1135.8 737.8 1133.4 738.7 1131.1 739.6 1128.8 740.5 1126.4 741.5 1124.1 742.4 1121.8 743.4 1119.5 744.3 1117.2 745.3 1114.9 746.3 1112.6 747.3 1110.3 748.3 1108.0 749.3 1105.7 750.3 1103.4 751.3 1101.1 752.4 1098.9 753.4 1096.6 754.5 1094.3 755.6 1092.1 756.7 1089.8 757.8 1087.6 758.9 1085.3 760.0 1083.1 761.1 1080.9 762.3 1078.6 763.4 1076.4 764.6 1074.2 765.7 1072.0 766.9 1069.8 768.1 1067.6 769.4 1065.4 770.6 1063.2 771.8 1061.1 773.1 1058.9 774.3 1056.7 775.6 1054.6 776.9 1052.4 778.2 1050.3 779.5 1048.2 780.9 1046.1 782.2 1044.0 783.6 1041.9 784.9 1039.8 786.3 1037.7 787.7 1035.6 789.1 1033.5 790.6 1031.5 792.0 1029.5 793.5 1027.4 794.9 1025.4 796.4 1023.4 797.9 1021.4 799.4 1019.4 801.0 1017.4 802.7 1015.6 804.4 1013.8 806.4 1012.2 808.5 1010.9 810.8 1009.9 813.2 1009.2 815.7 1008.8 818.1 1008.5 820.6 1008.4 823.1 1008.6 825.6 1008.9 828.1 1009.4 830.5 1010.0 832.9 1010.8 835.2 1011.8 837.4 1013.0 839.5 1014.3 841.5 1015.7 843.4 1017.4 845.2 1019.2 846.8 1021.1 848.3 1023.1 849.8 1025.1 851.2 1027.2 852.6 1029.2 854.0 1031.3 855.4 1033.4 856.7 1035.5 858.1 1037.6 859.4 1039.7 860.7 1041.8 862.0 1044.0 863.3 1046.1 864.6 1048.3 865.9 1050.4 867.1 1052.6 868.3 1054.8 869.5 1057.0 870.7 1059.2 871.9 1061.4 873.0 1063.6 874.1 1065.9 875.2 1068.1 876.3 1070.4 877.4 1072.6 878.5 1074.9 879.6 1077.1 880.7 1079.4 881.7 1081.7 882.8 1083.9 883.8 1086.2 884.8 1088.5 885.9 1090.8 886.9 1093.0 887.9 1095.3 889.0 1097.6 890.0 1099.9 891.0 1102.1 892.1 1104.4 893.1 1106.7 894.2 1109.0 895.2 1111.2 896.3 1113.5 897.4 1115.8 898.4 1118.0 899.5 1120.3 900.6 1122.5 901.7 1124.8 902.8 1127.0 903.9 1129.3 905.0 1131.5 906.1 1133.8 907.2 1136.0 908.4 1138.2 909.5 1140.5 910.6 1142.7 911.8 1144.9 912.9 1147.1 914.1 1149.4 915.2 1151.6 916.4 1153.8 917.6 1156.0 918.8 1158.2 919.9 1160.4 921.1 1162.6 922.3 1164.8 923.5 1167.0 924.8 1169.2 926.0 1171.4 927.2 1173.5 928.4 1175.7 929.7 1177.9 930.9 1180.1 932.2 1182.2 933.4 1184.4 934.7 1186.5 936.0 1188.7 937.3 1190.8 938.5 1193.0 939.8 1195.1 941.1 1197.3 942.4 1199.4 943.8 1201.5 945.1 1203.6 946.4 1205.8 947.7 1207.9 949.1 1210.0 950.4 1212.1 951.8 1214.2 953.2 1216.3 954.5 1218.4 955.9 1220.5 957.3 1222.5 958.7 1224.6 960.1 1226.7 961.5 1228.8 963.0 1230.8 964.4 1232.9 965.8 1234.9 967.3 1237.0 968.7 1239.0 970.2 1241.0 971.7 1243.0 973.2 1245.0 974.7 1247.0 976.2 1249.0 977.7 1251.0 979.2 1253.0 980.8 1255.0 982.4 1256.9 983.9 1258.8 985.5 1260.8 987.1 1262.7 988.7 1264.6 990.4 1266.5 992.0 1268.4 993.7 1270.3 995.3 1272.1 997.0 1274.0 998.7 1275.8 1000.5 1277.6 1002.2 1279.4 1003.9 1281.2 1005.7 1283.0 1007.5 1284.7 1009.3 1286.5 1011.1 1288.2 1013.0 1289.9 1014.8 1291.6 1016.7 1293.2 1018.6 1294.9 1020.5 1296.5 1022.4 1298.1 1024.4 1299.6 1026.3 1301.2 1028.3 1302.7 1030.3 1304.2 1032.4 1305.6 1034.5 1307.0 1036.5 1308.4 1038.7 1309.7 1040.8 1311.0 1043.0 1312.3 1045.2 1313.5 1047.4 1314.6 1049.6 1315.8 1051.9 1316.8 1054.2 1317.8 1056.5 1318.8 1058.8 1319.7 1061.2 1320.5 1063.5 1321.3 1065.9 1322.1 1068.3 1322.8 1070.7 1323.4 1073.2 1324.0 1075.6 1324.5 1078.1 1325.0 1080.5 1325.4 1083.0 1325.8 1085.5 1326.1 1088.0 1326.3 1090.5 1326.6 1093.0 1326.7 1095.5 1326.8 1098.0 1326.8 1100.5 1326.8 1103.0 1326.8 1105.5 1326.6 1108.0 1326.5 1110.5 1326.2 1113.0 1325.9 1115.4 1325.6 1117.9 1325.2 1120.4 1324.7 1122.8 1324.2 1125.2 1323.6 1127.7 1323.0 1130.1 1322.3 1132.4 1321.5 1134.8 1320.7 1137.1 1319.8 1139.5 1318.8 1141.7 1317.8 1144.0 1316.8 1146.3 1315.7 1148.5 1314.5 1150.7 1313.3 1152.8 1312.1 1155.0 1310.8 1157.1 1309.5 1159.3 1308.2 1161.4 1306.8 1163.5 1305.5 1165.5 1304.1 1167.6 1302.7 1169.7 1301.3 1171.7 1299.9 1173.8 1298.4 1175.8 1297.0 1177.8 1295.5 1179.9 1294.0 1181.9 1292.5 1183.9 1291.0 1185.9 1289.5 1187.8 1288.0 1189.8 1286.4 1191.8 1284.9 1193.8 1283.3 1195.7 1281.8 1197.7 1280.2 1199.6 1278.6 1201.5 1277.1 1203.5 1275.5 1205.4 1273.9 1207.3 1272.3 1209.3 1270.7 1211.2 1269.1 1213.1 1267.5 1215.0 1265.9 1216.9 1264.3 1218.9 1262.7 1220.8 1261.1 1222.7 1259.5 1224.6 1257.8 1226.5 1256.2 1228.4 1254.6 1230.3 1253.0 1232.3 1251.4 1234.2 1249.8 1236.1 1248.2 1238.0 1246.6 1240.0 1245.0 1241.9 1243.4 1243.8 1241.9 1245.8 1240.3 1247.8 1238.7 1249.7 1237.2 1251.7 1235.7 1253.7 1234.2 1255.7 1232.7 1257.7 1231.2 1259.8 1229.8 1261.8 1228.3 1263.9 1226.9 1266.0 1225.6 1268.1 1224.2 1270.3 1223.0 1272.4 1221.7 1274.6 1220.5 1276.8 1219.3 1279.1 1218.2 1281.3 1217.1 1283.6 1216.1 1285.9 1215.1 1288.2 1214.2 1290.6 1213.4 1293.0 1212.6 1295.4 1211.9 1297.8 1211.2 1300.2 1210.7 1302.7 1210.2 1305.1 1209.8 1307.6 1209.5 1310.1 1209.3 1312.6 1209.2 1315.1 1209.2 1317.6 1209.4 1320.1 1209.7 1322.5 1210.2 1325.0 1210.9 1327.3 1211.7 1329.6 1212.7 1331.9 1213.8 1334.1 1215.0 1336.2 1216.3 1338.2 1217.8 1340.2 1219.3 1342.1 1221.0 1343.9 1222.7 1345.6 1224.5 1347.3 1226.3 1349.0 1228.2 1350.6 1230.1 1352.1 1232.1 1353.6 1234.1 1355.0 1236.1 1356.4 1238.2 1357.8 1240.3 1359.1 1242.4 1360.4 1244.6 1361.7 1246.7 1362.9 1248.9 1364.1 1251.1 1365.3 1253.3 1366.5 1255.5 1367.6 1257.7 1368.8 1260.0 1369.9 1262.2 1371.1 1264.4 1372.2 1266.6 1373.3 1268.9 1374.4 1271.1 1375.5 1273.4 1376.6 1275.6 1377.7 1277.9 1378.8 1280.1 1379.9 1282.4 1381.0 1284.6 1382.0 1286.9 1383.0 1289.2 1384.1 1291.5 1385.1 1293.8 1386.0 1296.1 1387.0 1298.4 1388.0 1300.7 1389.0 1303.0 1390.0 1305.3 1390.9 1307.6 1391.9 1309.9 1392.9 1312.2 1394.0 1314.4 1395.0 1316.7 1396.1 1319.0 1397.2 1321.2 1398.4 1323.4 1399.6 1325.6 1400.8 1327.8 1402.0 1330.0 1403.4 1332.1 1404.7 1334.2 1406.1 1336.2 1407.6 1338.3 1409.1 1340.3 1410.7 1342.2 1412.4 1344.1 1414.1 1345.9 1415.8 1347.7 1417.7 1349.4 1419.6 1351.0 1421.5 1352.5 1423.6 1354.0 1425.7 1355.3 1427.9 1356.5 1430.2 1357.6 1432.5 1358.5 1434.9 1359.3 1437.3 1360.0 1439.7 1360.5 1442.2 1361.0 1444.7 1361.3 1447.1 1361.6 1449.6 1361.9 1452.1 1362.1 1454.6 1362.3 1457.1 1362.4 1459.6 1362.5 1462.1 1362.6 1464.6 1362.6 1467.1 1362.7 1469.6 1362.6 1472.1 1362.6 1474.6 1362.6 1477.1 1362.5 1479.6 1362.4 1482.1 1362.3 1484.6 1362.2 1487.1 1362.1 1489.6 1362.0 1492.1 1361.9 1494.6 1361.8 1497.1 1361.7 1499.6 1361.6 1502.1 1361.5 1504.6 1361.4 1507.1 1361.3 1509.6 1361.2 1512.1 1361.2 1514.6 1361.1 1517.1 1361.0 1519.6 1361.0 1522.1 1360.9 1524.6 1360.9 1527.1 1360.8 1529.6 1360.8 1532.1 1360.7 1534.6 1360.7 1537.1 1360.7 1539.6 1360.6 1542.1 1360.6 1544.6 1360.6 1547.1 1360.5 1549.6 1360.5 1552.1 1360.5 1554.6 1360.5 1557.1 1360.4 1559.6 1360.4 1562.1 1360.4 1564.6 1360.3 1567.1 1360.3 1569.6 1360.3 1572.1 1360.2 1574.6 1360.2 1577.1 1360.2 1579.6 1360.2 1582.2 1360.1 1584.7 1360.1 1587.2 1360.1 1589.7 1360.0 1592.2 1360.0 1594.7 1360.0 1597.2 1359.9 1599.7 1359.9 1602.2 1359.9 1604.7 1359.8 1607.2 1359.8 1609.7 1359.8 1612.2 1359.7 1614.7 1359.7 1617.2 1359.7 1619.7 1359.6 1622.2 1359.6 1624.7 1359.6 1627.2 1359.5 1629.7 1359.5 1632.2 1359.4 1634.7 1359.4 1637.2 1359.4 1639.7 1359.3 1642.2 1359.3 1644.7 1359.3 1647.2 1359.2 1649.7 1359.2 1652.2 1359.2 1654.7 1359.1 1657.2 1359.1 1659.7 1359.1 1662.2 1359.0 1664.7 1359.0 1667.2 1358.9 1669.7 1358.9 1672.2 1358.9 1674.7 1358.8 1677.2 1358.8 1679.7 1358.8 1682.2 1358.7 1684.7 1358.7 1687.2 1358.6 1689.7 1358.6 1692.2 1358.6 1694.7 1358.5 1697.2 1358.5 1699.7 1358.4 1702.2 1358.4 1704.7 1358.4 1707.2 1358.3 1709.7 1358.3 1712.2 1358.3 1714.7 1358.2 1717.2 1358.2 1719.7 1358.1 1722.2 1358.1 1724.7 1358.1 1727.2 1358.0 1729.7 1358.0 1732.2 1357.9 1734.7 1357.9 1737.2 1357.9 1739.7 1357.8 1742.2 1357.8 1744.7 1357.7 1747.2 1357.7 1749.7 1357.7 1752.2 1357.6 1754.7 1357.6 1757.2 1357.5 1759.7 1357.5 1762.2 1357.5 1764.7 1357.4 1767.3 1357.4 1769.8 1357.3 1772.3 1357.3 1774.8 1357.3 1777.3 1357.2 1779.8 1357.2 1782.3 1357.1 1784.8 1357.1 1787.3 1357.0 1789.8 1357.0 1792.3 1357.0 1794.8 1356.9 1797.3 1356.9 1799.8 1356.8 1802.3 1356.8 1804.8 1356.8 1807.3 1356.7 1809.8 1356.7 1812.3 1356.6 1814.8 1356.6 1817.3 1356.6 1819.8 1356.5 1822.3 1356.5 1824.8 1356.4 1827.3 1356.4 1829.8 1356.4 1832.3 1356.3 1834.8 1356.3 1837.3 1356.2 1839.8 1356.2 1842.3 1356.2 1844.8 1356.1 1847.3 1356.1 1849.8 1356.0 1852.3 1356.0 1854.8 1355.9 1857.3 1355.9 1859.8 1355.9 1862.3 1355.8 1864.8 1355.8 1867.3 1355.7 1869.8 1355.7 1872.3 1355.7 1874.8 1355.6 1877.3 1355.6 1879.8 1355.5 1882.3 1355.5 1884.8 1355.5 1887.3 1355.4 1889.8 1355.4 1892.3 1355.3 1894.8 1355.3 1897.3 1355.3 1899.8 1355.2 1902.3 1355.2 1904.8 1355.1 1907.3 1355.1 1909.8 1355.1 1912.3 1355.0 1914.8 1355.0 1917.3 1354.9 1919.8 1354.9 1922.3 1354.9 1924.8 1354.8 1927.3 1354.8 1929.8 1354.7 1932.3 1354.7 1934.8 1354.7 1937.3 1354.6 1939.8 1354.6 1942.3 1354.6 1944.8 1354.5 1947.3 1354.5 1949.8 1354.4 1952.3 1354.4 1954.8 1354.4 1957.3 1354.3 1959.9 1354.3 1962.4 1354.3 1964.9 1354.2 1967.4 1354.2 1969.9 1354.1 1972.4 1354.1 1974.9 1354.1 1977.4 1354.0 1979.9 1354.0 1982.4 1354.0 1984.9 1353.9 1987.4 1353.9 1989.9 1353.8 1992.4 1353.8 1994.9 1353.8 1997.4 1353.7 1999.9 1353.7 2002.4 1353.7 2004.9 1353.6 2007.4 1353.6 2009.9 1353.6 2012.4 1353.5 2014.9 1353.5 2017.4 1353.5 2019.9 1353.4 2022.4 1353.4 2024.9 1353.4 2027.4 1353.3 2029.9 1353.3 2032.4 1353.3 2034.9 1353.2 2037.4 1353.2 2039.9 1353.2 2042.4 1353.1 2044.9 1353.1 2047.4 1353.1 2049.9 1353.0 2052.4 1353.0 2054.9 1353.0 2057.4 1352.9 2059.9 1352.9 2062.4 1352.9 2064.9 1352.8 2067.4 1352.8 2069.9 1352.8 2072.4 1352.7 2074.9 1352.7 2077.4 1352.7 2079.9 1352.7 2082.4 1352.6 2084.9 1352.6 2087.4 1352.6 2089.9 1352.5 2092.4 1352.5 2094.9 1352.5 2097.4 1352.5 2099.9 1352.4 2102.4 1352.4 2104.9 1352.4 2107.4 1352.3 2109.9 1352.3 2112.4 1352.3 2114.9 1352.3 2117.4 1352.2 2119.9 1352.2 2122.4 1352.2 2124.9 1352.2 2127.4 1352.1 2129.9 1352.1 2132.4 1352.1 2134.9 1352.1 2137.5 1352.0 2140.0 1352.0 2142.5 1352.0 2145.0 1352.0 2147.5 1351.9 2150.0 1351.9 2152.5 1351.9 2155.0 1351.9 2157.5 1351.9 2160.0 1351.8 2162.5 1351.8 2165.0 1351.8 2167.5 1351.8 2170.0 1351.7 2172.5 1351.7 2175.0 1351.7 2177.5 1351.7 2180.0 1351.7 2182.5 1351.6 2185.0 1351.6 2187.5 1351.6 2190.0 1351.6 2192.5 1351.6 2195.0 1351.6 2197.5 1351.5 2200.0 1351.5 2202.5 1351.5 2205.0 1351.5 2207.5 1351.5 2210.0 1351.5 2212.5 1351.4 2215.0 1351.4"/>
</g>
<g fill="none" stroke="#000" stroke-width="3" stroke-linecap="butt" stroke-dasharray="12 8.48">
<line x1="827.5" y1="305" x2="827.5" y2="1137"/>
<line x1="1291.4" y1="846" x2="1291.4" y2="1301"/>
</g>
<g font-size="87.3">
<text transform="translate(885.2 350) scale(1 1.03)">349</text>
<text transform="translate(1325.5 906) scale(1 1.03)">534</text>
<text transform="translate(1587.5 720) scale(1 1.0175)">Ni/SBA-15-M</text>
<text transform="translate(1588.3 1026) scale(1 1.0175)">Ni/SBA-15-M-C</text>
<text transform="translate(1587.6 1321) scale(1 1.0175)">Ni/SBA-15-I</text>
</g>
<g font-weight="bold" font-size="88.7">
<text transform="translate(448.6 1616) scale(1 1.012)" text-anchor="middle">200</text><text transform="translate(952.9 1616) scale(1 1.012)" text-anchor="middle">400</text><text transform="translate(1457.1 1616) scale(1 1.012)" text-anchor="middle">600</text><text transform="translate(1961.4 1616) scale(1 1.012)" text-anchor="middle">800</text>
</g>
<text font-weight="bold" font-size="103" y="1732.8"><tspan x="854.4">Temperature (</tspan><tspan x="1482.5" y="1683.5" font-size="62">o</tspan><tspan x="1512" y="1732.8">C)</tspan></text>
<text font-weight="bold" font-size="101.3" transform="translate(102 1176.4) rotate(-90) scale(1 1.015)">TCD Signal (a.u.)</text>
</svg>
</body></html>
